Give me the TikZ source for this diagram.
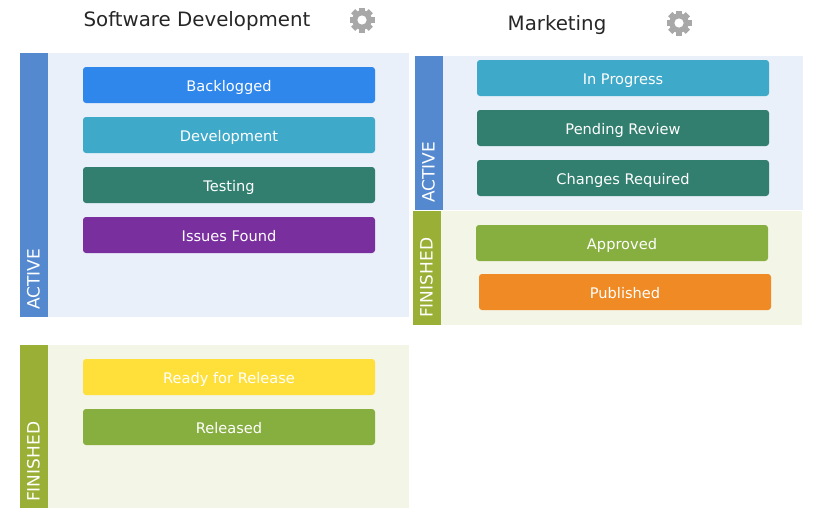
\documentclass[tikz,border=0pt]{standalone}
\usepackage{fontspec}
\setmainfont{DejaVu Sans}
\definecolor{activeback}{HTML}{E9F0FA}
\definecolor{activeband}{HTML}{5489CF}
\definecolor{finishedback}{HTML}{F3F5E7}
\definecolor{finishedband}{HTML}{9AAF35}
\definecolor{cardblue}{HTML}{2F86EB}
\definecolor{cardcyan}{HTML}{3FA9C9}
\definecolor{cardteal}{HTML}{327F70}
\definecolor{cardpurple}{HTML}{7A2F9E}
\definecolor{cardyellow}{HTML}{FFE03A}
\definecolor{cardgreen}{HTML}{87AF3F}
\definecolor{cardorange}{HTML}{F08A25}
\definecolor{gearcolor}{HTML}{A8A8A8}
\tikzset{
	card/.style={rounded corners=3pt,minimum width=292pt,minimum height=36pt,inner sep=0pt,text height=13pt,text depth=0pt,text=white,font=\fontsize{14.6}{17}\selectfont},
	title/.style={inner sep=0pt,text height=13.4pt,text depth=0pt,text=black!85,font=\fontsize{19.8}{23}\selectfont},
	bandtext/.style={rotate=90,anchor=west,inner sep=0pt,text=white,font=\fontsize{17}{19}\selectfont},
	gear/.pic={
		\fill[gearcolor] (0,0) circle (9.8pt);
		\foreach \a in {0,45,...,315}
			\fill[gearcolor,rotate=\a] (-3pt,8pt) rectangle (3pt,12.5pt);
		\fill[white] (0,0) circle (4.6pt);
	}
}
\begin{document}
\begin{tikzpicture}[x=1pt,y=-1pt]
	\useasboundingbox (0,0) rectangle (814,522);

	% software development
	\fill[activeback] (48,53) rectangle (409,317);
	\fill[activeband] (20,53) rectangle (48,317);
	\fill[finishedback] (48,345) rectangle (409,508);
	\fill[finishedband] (20,345) rectangle (48,508);
	\node[title] (softtitle) at (197,20) {Software Development};
	\pic at (362,20) {gear};
	\node[bandtext] (softactive) at (33.5,310) {ACTIVE};
	\node[bandtext] (softfinished) at (33.5,502) {FINISHED};
	\node[card,fill=cardblue] (backlogged) at (229,85) {Backlogged};
	\node[card,fill=cardcyan] (development) at (229,135) {Development};
	\node[card,fill=cardteal] (testing) at (229,185) {Testing};
	\node[card,fill=cardpurple] (issues) at (229,235) {Issues Found};
	\node[card,fill=cardyellow] (ready) at (229,377) {Ready for Release};
	\node[card,fill=cardgreen] (released) at (229,427) {Released};

	% marketing
	\fill[activeback] (443,56) rectangle (803,210);
	\fill[activeband] (415,56) rectangle (443,210);
	\fill[finishedback] (441,211) rectangle (802,325);
	\fill[finishedband] (413,211) rectangle (441,325);
	\node[title] (markettitle) at (557,23.5) {Marketing};
	\pic at (679,23) {gear};
	\node[bandtext] (marketactive) at (428.5,203) {ACTIVE};
	\node[bandtext] (marketfinished) at (426.5,318) {FINISHED};
	\node[card,fill=cardcyan] (progress) at (623,78) {In Progress};
	\node[card,fill=cardteal] (pending) at (623,128) {Pending Review};
	\node[card,fill=cardteal] (changes) at (623,178) {Changes Required};
	\node[card,fill=cardgreen] (approved) at (622,243) {Approved};
	\node[card,fill=cardorange] (published) at (625,292) {Published};
\end{tikzpicture}
\end{document}
